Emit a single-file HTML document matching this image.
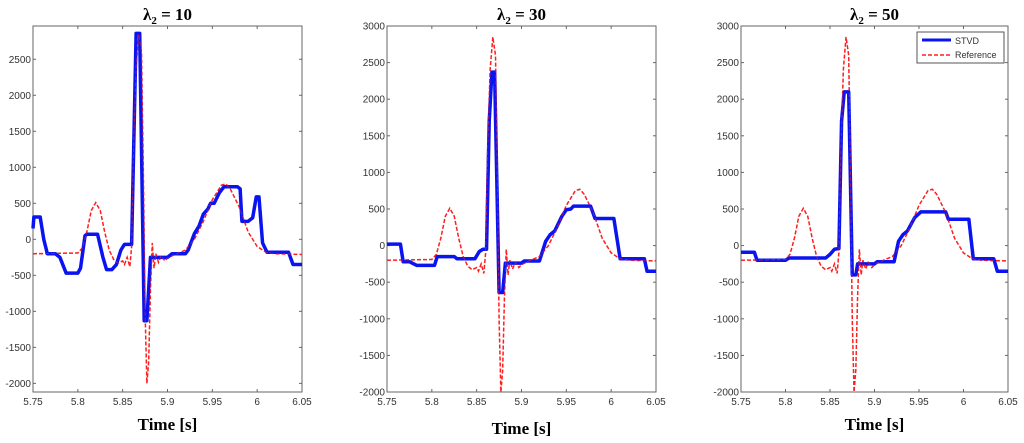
<!DOCTYPE html>
<html><head><meta charset="utf-8"><style>
body{margin:0;background:#fff;}
svg{display:block;}
text{font-family:"Liberation Sans",sans-serif;}
.t{font-family:"Liberation Serif",serif;font-weight:bold;}
</style></head><body>
<svg id="chart" width="1024" height="443" viewBox="0 0 1024 443"></svg>
<script>
const xTicks=[5.75,5.8,5.85,5.9,5.95,6,6.05];
const xTickLabels=["5.75","5.8","5.85","5.9","5.95","6","6.05"];
const yTicks=[-2000,-1500,-1000,-500,0,500,1000,1500,2000,2500,3000];
const refT=[5.75,5.80,5.805,5.81,5.815,5.82,5.825,5.83,5.835,5.84,5.845,5.85,5.852,5.855,5.858,5.86,5.862,5.865,5.868,5.871,5.873,5.875,5.877,5.879,5.881,5.883,5.885,5.887,5.89,5.893,5.897,5.90,5.91,5.92,5.93,5.94,5.95,5.96,5.965,5.97,5.98,5.99,6.0,6.01,6.02,6.05];
const refV=[-200,-190,-120,100,400,510,400,100,-150,-280,-330,-300,-350,-250,-380,-100,1200,2400,2850,2600,1000,-1000,-2000,-1700,-700,-50,-400,-200,-320,-230,-300,-260,-200,-150,0,250,550,750,770,700,450,100,-100,-180,-200,-210];
const s1T=[5.75,5.751,5.758,5.762,5.766,5.775,5.78,5.787,5.8,5.803,5.808,5.81,5.822,5.828,5.832,5.838,5.843,5.848,5.852,5.86,5.865,5.869,5.874,5.877,5.881,5.9,5.905,5.92,5.923,5.93,5.935,5.94,5.945,5.948,5.952,5.958,5.963,5.978,5.981,5.983,5.99,5.995,5.999,6.002,6.006,6.011,6.035,6.04,6.05];
const s1V=[150,310,310,0,-200,-200,-250,-470,-470,-400,50,70,70,-250,-420,-420,-350,-150,-70,-70,2860,2860,-1130,-1130,-250,-250,-200,-200,-150,80,180,350,420,500,500,650,730,730,700,250,250,300,590,590,-50,-180,-180,-350,-350];
const s2T=[5.75,5.765,5.768,5.775,5.783,5.803,5.806,5.825,5.828,5.848,5.853,5.857,5.861,5.864,5.867,5.87,5.875,5.879,5.882,5.9,5.903,5.92,5.927,5.932,5.937,5.945,5.95,5.955,5.958,5.977,5.982,6.003,6.01,6.037,6.04,6.05];
const s2V=[20,20,-220,-220,-270,-270,-150,-150,-180,-180,-80,-50,-50,1700,2370,2370,-640,-640,-240,-240,-210,-210,60,150,200,400,490,500,540,540,370,370,-180,-180,-350,-350];
const s3T=[5.75,5.765,5.768,5.8,5.804,5.845,5.85,5.855,5.86,5.863,5.866,5.871,5.875,5.879,5.881,5.9,5.903,5.922,5.927,5.932,5.937,5.945,5.952,5.98,5.983,6.006,6.011,6.034,6.038,6.05];
const s3V=[-90,-90,-200,-200,-170,-170,-120,-50,-40,1700,2100,2100,-400,-400,-250,-250,-220,-220,60,150,200,380,460,460,360,360,-180,-180,-350,-350];
const titles=["10","30","50"];
const panels=[
 {x0:33,x1:302,y0:26,y1:392,ymin:-2120,ymax:2962,T:s1T,V:s1V,yt:[-2000,-1500,-1000,-500,0,500,1000,1500,2000,2500],xl:423},
 {x0:387,x1:656,y0:26,y1:392,ymin:-2000,ymax:3000,T:s2T,V:s2V,yt:yTicks,xl:427},
 {x0:741,x1:1008,y0:26,y1:392,ymin:-2000,ymax:3000,T:s3T,V:s3V,yt:yTicks,xl:423}
];
const NS="http://www.w3.org/2000/svg";
const svg=document.getElementById('chart');
function mk(tag,attrs,parent){const e=document.createElementNS(NS,tag);for(const k in attrs)e.setAttribute(k,attrs[k]);(parent||svg).appendChild(e);return e;}
panels.forEach((p,i)=>{
 const g=mk('g',{});
 
 
 const sx=t=>p.x0+(t-5.75)/(0.3)*(p.x1-p.x0);
 const sy=v=>p.y1-(v-p.ymin)/(p.ymax-p.ymin)*(p.y1-p.y0);
 const box=mk('rect',{x:p.x0,y:p.y0,width:p.x1-p.x0,height:p.y1-p.y0,fill:'#fff',stroke:'#666','stroke-width':1},g);
 
 
 xTicks.forEach((t,j)=>{
  const x=sx(t);
  mk('line',{x1:x,x2:x,y1:p.y1,y2:p.y1-3,stroke:'#666'},g);
  mk('line',{x1:x,x2:x,y1:p.y0,y2:p.y0+3,stroke:'#666'},g);
  const tx=mk('text',{x:x,y:p.y1+13,'font-size':10,fill:'#333','text-anchor':'middle'},g);
  tx.textContent=xTickLabels[j];
  
  
 });
 p.yt.forEach(v=>{
  const y=sy(v);
  mk('line',{x1:p.x0,x2:p.x0+3,y1:y,y2:y,stroke:'#666'},g);
  mk('line',{x1:p.x1,x2:p.x1-3,y1:y,y2:y,stroke:'#666'},g);
  const tx=mk('text',{x:p.x0-2,y:y+3.5,'font-size':10,fill:'#333','text-anchor':'end'},g);
  tx.textContent=String(v);
  
  
 });
 const ref=mk('polyline',{points:refT.map((t,j)=>sx(t)+','+sy(refV[j])).join(' '),fill:'none',stroke:'#ff2020','stroke-width':1.5,'stroke-dasharray':'4,2'},g);
 
 
 const st=mk('polyline',{points:p.T.map((t,j)=>sx(t)+','+sy(p.V[j])).join(' '),fill:'none',stroke:'#0a14f0','stroke-width':3.5,'stroke-linejoin':'round'},g);
 
 
 mk('polyline',{points:refT.map((t,j)=>sx(t)+','+sy(refV[j])).join(' '),fill:'none',stroke:'#ff2020','stroke-width':1,'stroke-dasharray':'4,2','opacity':0.6},g);
 const tt=mk('text',{x:(p.x0+p.x1)/2,y:20,'font-size':17,'text-anchor':'middle',class:'t'},g);
 tt.innerHTML='λ<tspan font-size="11" dy="4">2</tspan><tspan dy="-4"> = '+titles[i]+'</tspan>';
 
 
 const xl=mk('text',{x:(p.x0+p.x1)/2,y:p.xl+7,'font-size':17,'text-anchor':'middle',class:'t'},g);
 xl.textContent='Time [s]';
 
 
});
const lg=mk('g',{});


mk('rect',{x:917,y:32,width:87,height:31,fill:'#fff',stroke:'#555'},lg);
mk('line',{x1:922,x2:951,y1:40,y2:40,stroke:'#0a14f0','stroke-width':3},lg);
mk('line',{x1:922,x2:951,y1:55,y2:55,stroke:'#ff2020','stroke-width':1.5,'stroke-dasharray':'4,2'},lg);
const l1=mk('text',{x:955,y:44,'font-size':9,fill:'#333'},lg);l1.textContent='STVD';


const l2=mk('text',{x:955,y:58,'font-size':9,fill:'#333'},lg);l2.textContent='Reference';


</script>
</body></html>
